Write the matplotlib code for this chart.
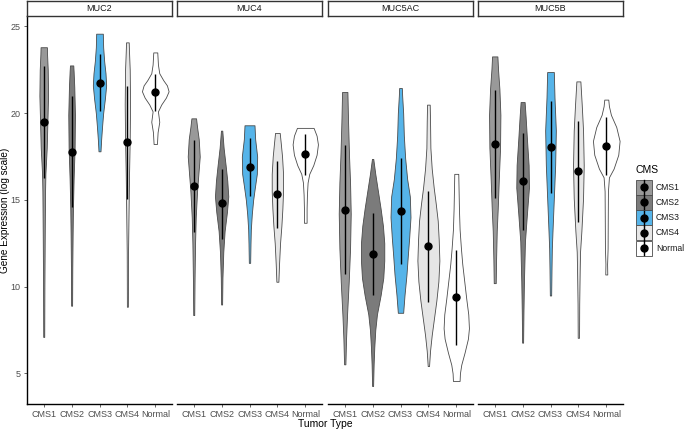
import matplotlib
matplotlib.use('Agg')
import matplotlib.pyplot as plt
import numpy as np
from matplotlib.patches import Rectangle

plt.rcParams['font.family'] = ['Liberation Sans', 'DejaVu Sans']

genes = ['MUC2', 'MUC4', 'MUC5AC', 'MUC5B']
groups = ['CMS1', 'CMS2', 'CMS3', 'CMS4', 'Normal']
colors = ['#999999', '#7b7b7b', '#56B4E9', '#E6E6E6', '#FFFFFF']

# point (centre) and line range per gene, per group
points = {
    'MUC2':   [19.47, 17.78, 21.76, 18.32, 21.20],
    'MUC4':   [15.81, 14.81, 16.90, 15.31, 17.67],
    'MUC5AC': [14.44, 11.89, 14.35, 12.33, 9.38],
    'MUC5B':  [18.22, 16.07, 18.05, 16.65, 18.13],
}
lows = {
    'MUC2':   [16.27, 14.58, 20.11, 15.06, 20.10],
    'MUC4':   [13.16, 12.77, 15.21, 13.35, 16.46],
    'MUC5AC': [10.70, 9.49, 11.28, 9.13, 6.63],
    'MUC5B':  [15.12, 13.29, 15.40, 13.71, 16.46],
}
highs = {
    'MUC2':   [22.70, 21.00, 23.41, 21.58, 22.26],
    'MUC4':   [18.44, 16.80, 18.57, 17.23, 18.82],
    'MUC5AC': [18.15, 14.25, 17.42, 15.54, 12.12],
    'MUC5B':  [21.31, 18.86, 20.72, 19.53, 19.80],
}

# violin outlines: expression level and relative density (bottom -> top)
muc2_y = [
    [7.1, 10, 13, 15.5, 16.5, 18, 19.5, 21, 22.5, 23.4, 23.8],
    [8.9, 11, 13, 14.5, 16.2, 18, 19.9, 21.5, 22.4, 22.75],
    [17.8, 18.5, 19.3, 20.0, 20.8, 21.6, 22.3, 23.0, 23.8, 24.58],
    [8.84, 12, 15, 16.5, 18.5, 20.5, 22.5, 23.5, 24.08],
    [18.22, 18.9, 19.5, 20.1, 20.5, 20.9, 21.26, 21.6, 21.9, 22.3, 22.8, 23.5],
]
muc2_d = [
    [1.5, 2, 3, 4, 5, 9, 11, 13, 12, 10, 9.5],
    [1.5, 2, 3, 4, 6, 9, 10, 8, 6, 5],
    [3, 5, 8, 11, 16, 20, 18, 14, 11, 10],
    [1.5, 2, 4, 5, 7, 8, 7, 5, 4],
    [5, 7, 12, 8, 18, 32, 40, 35, 24, 12, 8, 6],
]
muc4_y = [
    [8.36, 10.5, 12.5, 14, 15.5, 16.5, 17.5, 18.5, 19.2, 19.7],
    [8.97, 10.5, 12, 13.2, 14.3, 15.2, 16.1, 17.0, 18.0, 18.99],
    [11.37, 12.5, 13.3, 14.2, 15.0, 15.7, 16.5, 17.5, 18.5, 19.3],
    [10.28, 11.3, 12.5, 13.5, 14.5, 15.5, 16.5, 17.5, 18.3, 18.86],
    [13.68, 14.5, 15.3, 16.0, 16.5, 17.0, 17.6, 18.2, 18.7, 19.15],
]
muc4_d = [
    [1.5, 2.5, 4, 6, 10, 14, 18, 15, 10, 7],
    [1.5, 2.5, 5, 9, 16, 20, 17, 12, 6, 2],
    [2, 3, 4, 7, 11, 16, 22, 23, 17, 15],
    [3, 5, 8, 12, 15, 17, 17, 14, 10, 7],
    [4, 4, 5, 7, 12, 24, 34, 38, 34, 25],
]
muc5ac_y = [
    [5.52, 7, 8.4, 10.3, 12.2, 14.2, 16, 17.5, 19.5, 21.22],
    [4.27, 5.5, 6.5, 7.5, 8.4, 9.5, 10.5, 11.5, 12.5, 13.5, 14.5, 15.5, 16.5, 17.36],
    [8.49, 9.5, 10.7, 11.8, 12.8, 14, 15.2, 16.2, 17.4, 18.7, 20, 21, 21.45],
    [5.42, 6.3, 7.2, 8.2, 9.2, 10.3, 11.5, 12.7, 13.8, 14.8, 15.7, 16.8, 18, 19.5, 20.49],
    [4.56, 5.0, 5.5, 6.2, 7.0, 7.6, 8.4, 9.3, 10.3, 11.3, 12.2, 13.3, 14.5, 15.5, 16.5],
]
muc5ac_d = [
    [2, 4, 7, 12, 16, 18, 16, 13, 10, 8],
    [1.5, 3, 5, 8, 13, 24, 32, 35, 35, 31, 24, 16, 8, 2],
    [8, 12, 18, 22, 26, 30, 28, 20, 14, 10, 8, 5, 4],
    [2, 5, 10, 17, 24, 30, 33, 31, 28, 22, 16, 10, 6, 5, 4],
    [10, 11, 15, 25, 35, 38, 36, 30, 24, 18, 14, 10, 8, 7, 6],
]
muc5b_y = [
    [10.2, 11.5, 13.2, 14.5, 16.1, 18, 19.9, 21.4, 22.5, 23.27],
    [6.77, 8.5, 10.3, 12.6, 14.2, 15.7, 17, 18.5, 19.8, 20.64],
    [9.49, 11, 12.2, 13.2, 15.1, 17, 19, 20.9, 22.37],
    [7.05, 9, 11, 12, 13.2, 15.1, 17, 19, 20.5, 21.83],
    [10.7, 11.3, 12.2, 14, 15.5, 16.3, 16.8, 17.6, 18.4, 19.2, 19.9, 20.4, 20.78],
]
muc5b_d = [
    [3, 4, 6, 9, 12, 16, 17, 14, 10, 8],
    [1.5, 2.5, 4, 7, 13, 19, 18, 13, 9, 6],
    [2, 3, 4, 6, 10, 14, 16, 12, 10],
    [2, 2.5, 4, 5, 9, 14, 16, 14, 10, 6],
    [3, 2.5, 4, 4.5, 5, 8, 22, 36, 40, 30, 14, 8, 6],
]
violin_y = {'MUC2': muc2_y, 'MUC4': muc4_y, 'MUC5AC': muc5ac_y, 'MUC5B': muc5b_y}
violin_d = {'MUC2': muc2_d, 'MUC4': muc4_d, 'MUC5AC': muc5ac_d, 'MUC5B': muc5b_d}

dens_scale = 1 / 83.7
W, H = 685, 430
fig = plt.figure(figsize=(6.85, 4.30), dpi=100)

panel_left = [27, 177, 328, 478]
panel_w = 145
ax_bottom, ax_top = 403.7, 16
tick_col = '#4d4d4d'

for i, gene in enumerate(genes):
    ax = fig.add_axes([panel_left[i] / W, (H - ax_bottom) / H,
                       panel_w / W, (ax_bottom - ax_top) / H])
    pos = np.arange(1, len(groups) + 1)
    for j in range(len(groups)):
        y = np.asarray(violin_y[gene][j])
        hw = np.asarray(violin_d[gene][j]) * dens_scale
        ax.fill_betweenx(y, pos[j] - hw, pos[j] + hw, facecolor=colors[j],
                         edgecolor='#4a4a4a', linewidth=0.6, zorder=2)
    ax.vlines(pos, lows[gene], highs[gene], color='black', linewidth=1.0, zorder=3)
    ax.plot(pos, points[gene], 'o', color='black', markersize=5, zorder=4)

    ax.set_xlim(0.4, 5.6)
    ax.set_ylim(3.25, 25.6)
    ax.set_xticks(pos)
    ax.set_xticklabels(groups)
    for s in ['top', 'right']:
        ax.spines[s].set_visible(False)
    ax.spines['bottom'].set_linewidth(1.0)
    ax.tick_params(axis='x', length=2.5, width=0.6, colors=tick_col,
                   labelsize=6.5, pad=2)
    if i == 0:
        ax.spines['left'].set_linewidth(1.0)
        ax.set_yticks([5, 10, 15, 20, 25])
        ax.tick_params(axis='y', length=2.5, width=0.6, colors=tick_col,
                       labelsize=6.5, pad=2)
    else:
        ax.spines['left'].set_visible(False)
        ax.set_yticks([])
    for s in ['left', 'bottom']:
        ax.spines[s].set_color('black')

    # facet strip
    sax = fig.add_axes([panel_left[i] / W, (H - 16) / H, panel_w / W, 15 / H])
    sax.set_xticks([])
    sax.set_yticks([])
    for s in sax.spines.values():
        s.set_color('#333333')
        s.set_linewidth(1.0)
    sax.text(0.5, 0.5, gene, ha='center', va='center', fontsize=6.5,
             color='#1a1a1a', transform=sax.transAxes)

fig.text(5.5 / W, 1 - 210 / H, 'Gene Expression (log scale)', rotation=90,
         ha='center', va='center', fontsize=7.2)
fig.text(325 / W, 1 - 424 / H, 'Tumor Type', ha='center', va='center', fontsize=7.5)

# legend
lax = fig.add_axes([0, 0, 1, 1])
lax.set_xlim(0, W)
lax.set_ylim(H, 0)
lax.axis('off')
lax.text(636, 170, 'CMS', ha='left', va='center', fontsize=7.5)
for j, g in enumerate(groups):
    yc = 187 + j * 15.3
    lax.add_patch(Rectangle((636, yc - 7.5), 16, 15, facecolor=colors[j],
                            edgecolor='#4a4a4a', linewidth=0.6))
    lax.plot([644, 644], [yc - 7, yc + 7], color='black', linewidth=1.0)
    lax.plot(644, yc, 'o', color='black', markersize=5)
    lax.text(656, yc, g, ha='left', va='center', fontsize=6.2, color='#1a1a1a')

fig.savefig('out.png', dpi=100)
